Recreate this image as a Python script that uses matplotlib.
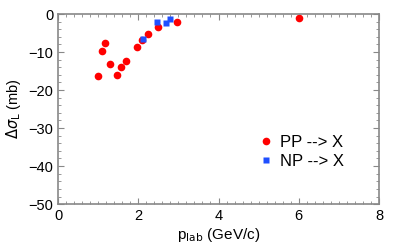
import matplotlib
matplotlib.use("Agg")
import matplotlib.pyplot as plt
from matplotlib.ticker import MultipleLocator

plt.rcParams["font.family"] = ["Liberation Sans", "DejaVu Sans"]

# PP --> X
pp_p = [1.00, 1.10, 1.17, 1.30, 1.47, 1.57, 1.70, 1.97, 2.10, 2.25, 2.49, 2.97, 6.01]
pp_dsig = [-16.2, -9.7, -7.6, -13.1, -16.0, -13.9, -12.4, -8.8, -6.8, -5.3, -3.3, -2.2, -1.0]
# NP --> X
np_p = [2.13, 2.46, 2.68, 2.78]
np_dsig = [-6.5, -2.1, -2.3, -1.4]

fig = plt.figure(figsize=(4.15, 2.48), dpi=100)
ax = fig.add_axes([0.1398, 0.177, 0.7735, 0.7665])

ax.plot(pp_p, pp_dsig, "o", color="#ff0000", ms=5.5, mec="none", label="PP --> X")
ax.plot(np_p, np_dsig, "s", color="#1f4fff", ms=4.5, mec="none", label="NP --> X")

ax.set_xlim(0, 8)
ax.set_ylim(-50, 0)
ax.xaxis.set_major_locator(MultipleLocator(2))
ax.xaxis.set_minor_locator(MultipleLocator(0.2))
ax.yaxis.set_major_locator(MultipleLocator(10))
ax.yaxis.set_minor_locator(MultipleLocator(2))
ax.tick_params(which="both", direction="in", top=True, right=True, color="#888888",
               labelsize=10.5)
ax.tick_params(which="major", length=4)
ax.tick_params(which="minor", length=2)
for s in ax.spines.values():
    s.set_color("#888888")
    s.set_linewidth(1.2)

ax.set_xlabel(r"p$_{\mathrm{lab}}$ (GeV/c)", fontsize=11, labelpad=2)
ax.set_ylabel(r"$\Delta\sigma_{\mathrm{L}}$ (mb)", fontsize=10.5, labelpad=4)

ax.legend(loc="center left", bbox_to_anchor=(0.623, 0.274), frameon=False,
          fontsize=12, handletextpad=0.3, labelspacing=0.25, handlelength=1.0,
          borderpad=0, borderaxespad=0)

fig.savefig("out.png", dpi=100)
